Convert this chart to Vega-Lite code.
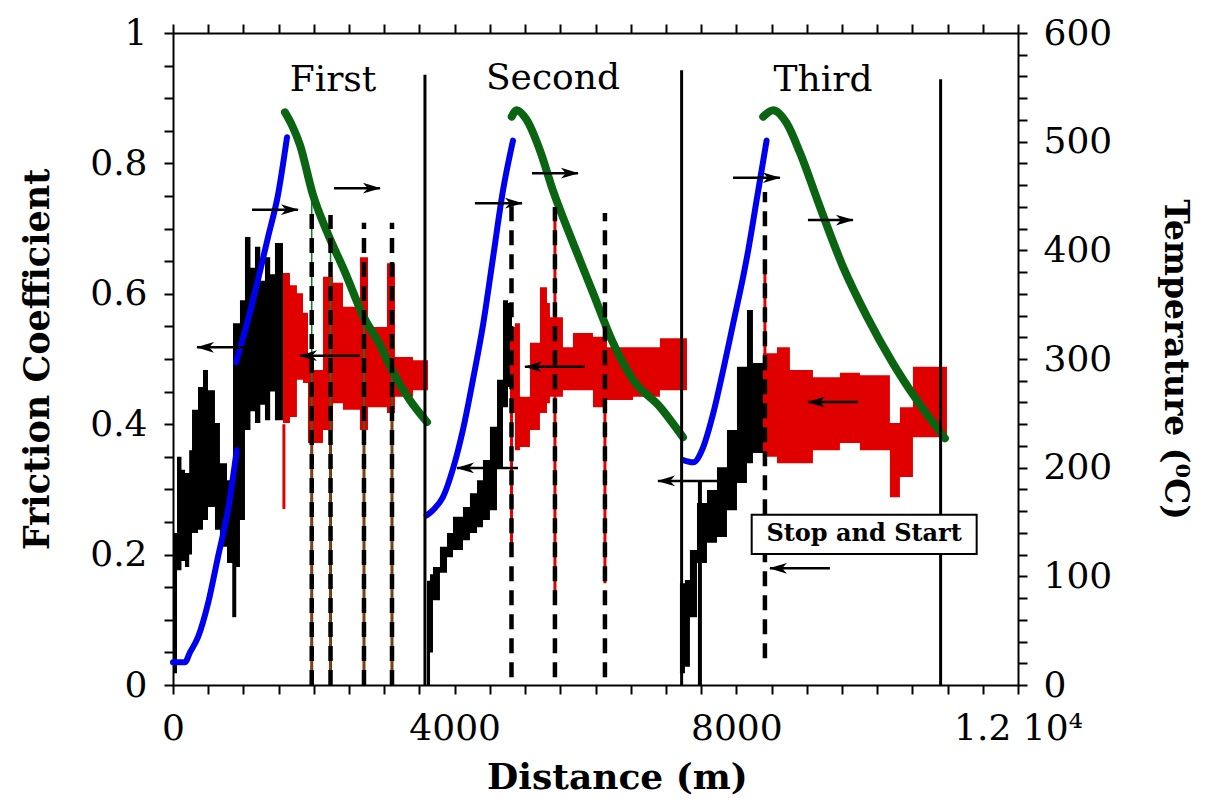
{
  "$schema": "https://vega.github.io/schema/vega-lite/v6.json",
  "width": 845,
  "height": 652,
  "autosize": "none",
  "padding": {"left": 173, "top": 33, "right": 195, "bottom": 118},
  "background": "white",
  "config": {
    "view": {"stroke": null},
    "axis": {"grid": false, "domainColor": "black", "tickColor": "black", "labelColor": "black", "titleColor": "black", "labelFont": "DejaVu Serif", "titleFont": "DejaVu Serif", "domainWidth": 2, "tickWidth": 2, "labelOverlap": false, "labelFlush": false}
  },
  "datasets": {
    "black": [
      {"seg": "b1", "x": 0, "y": 0.018, "y2": 0.233},
      {"seg": "b1", "x": 57, "y": 0.176, "y2": 0.35},
      {"seg": "b1", "x": 120, "y": 0.19, "y2": 0.33},
      {"seg": "b1", "x": 170, "y": 0.181, "y2": 0.325},
      {"seg": "b1", "x": 230, "y": 0.2, "y2": 0.36},
      {"seg": "b1", "x": 270, "y": 0.233, "y2": 0.422},
      {"seg": "b1", "x": 355, "y": 0.238, "y2": 0.457},
      {"seg": "b1", "x": 426, "y": 0.253, "y2": 0.483},
      {"seg": "b1", "x": 497, "y": 0.273, "y2": 0.452},
      {"seg": "b1", "x": 596, "y": 0.238, "y2": 0.402},
      {"seg": "b1", "x": 667, "y": 0.212, "y2": 0.34},
      {"seg": "b1", "x": 767, "y": 0.187, "y2": 0.314},
      {"seg": "b1", "x": 852, "y": 0.181, "y2": 0.555},
      {"seg": "b1", "x": 951, "y": 0.253, "y2": 0.59},
      {"seg": "b1", "x": 1022, "y": 0.391, "y2": 0.687},
      {"seg": "b1", "x": 1100, "y": 0.42, "y2": 0.64},
      {"seg": "b1", "x": 1164, "y": 0.402, "y2": 0.672},
      {"seg": "b1", "x": 1240, "y": 0.43, "y2": 0.62},
      {"seg": "b1", "x": 1306, "y": 0.406, "y2": 0.656},
      {"seg": "b1", "x": 1380, "y": 0.45, "y2": 0.63},
      {"seg": "b1", "x": 1448, "y": 0.406, "y2": 0.678},
      {"seg": "b1", "x": 1562, "y": 0.406, "y2": 0.678},
      {"seg": "b2", "x": 3607, "y": 0.0, "y2": 0.16},
      {"seg": "b2", "x": 3650, "y": 0.05, "y2": 0.17},
      {"seg": "b2", "x": 3692, "y": 0.13, "y2": 0.181},
      {"seg": "b2", "x": 3791, "y": 0.172, "y2": 0.212},
      {"seg": "b2", "x": 3891, "y": 0.196, "y2": 0.233},
      {"seg": "b2", "x": 3976, "y": 0.207, "y2": 0.258},
      {"seg": "b2", "x": 4118, "y": 0.222, "y2": 0.273},
      {"seg": "b2", "x": 4217, "y": 0.233, "y2": 0.294},
      {"seg": "b2", "x": 4317, "y": 0.242, "y2": 0.314},
      {"seg": "b2", "x": 4402, "y": 0.253, "y2": 0.345},
      {"seg": "b2", "x": 4501, "y": 0.268, "y2": 0.396},
      {"seg": "b2", "x": 4601, "y": 0.334, "y2": 0.468},
      {"seg": "b2", "x": 4686, "y": 0.426, "y2": 0.59},
      {"seg": "b2", "x": 4757, "y": 0.457, "y2": 0.586},
      {"seg": "b2", "x": 4814, "y": 0.457, "y2": 0.586},
      {"seg": "b3", "x": 7199, "y": 0.018, "y2": 0.156},
      {"seg": "b3", "x": 7270, "y": 0.028, "y2": 0.161},
      {"seg": "b3", "x": 7341, "y": 0.104, "y2": 0.207},
      {"seg": "b3", "x": 7441, "y": 0.187, "y2": 0.279},
      {"seg": "b3", "x": 7583, "y": 0.218, "y2": 0.299},
      {"seg": "b3", "x": 7725, "y": 0.227, "y2": 0.334},
      {"seg": "b3", "x": 7867, "y": 0.268, "y2": 0.391},
      {"seg": "b3", "x": 8009, "y": 0.31, "y2": 0.488},
      {"seg": "b3", "x": 8151, "y": 0.34, "y2": 0.575},
      {"seg": "b3", "x": 8236, "y": 0.356, "y2": 0.494},
      {"seg": "b3", "x": 8406, "y": 0.356, "y2": 0.494}
    ],
    "red": [
      {"seg": "r1", "x": 1562, "y": 0.402, "y2": 0.632},
      {"seg": "r1", "x": 1661, "y": 0.411, "y2": 0.613},
      {"seg": "r1", "x": 1760, "y": 0.468, "y2": 0.601},
      {"seg": "r1", "x": 1846, "y": 0.463, "y2": 0.571},
      {"seg": "r1", "x": 1917, "y": 0.371, "y2": 0.503},
      {"seg": "r1", "x": 1988, "y": 0.371, "y2": 0.483},
      {"seg": "r1", "x": 2130, "y": 0.391, "y2": 0.626},
      {"seg": "r1", "x": 2272, "y": 0.432, "y2": 0.617},
      {"seg": "r1", "x": 2414, "y": 0.422, "y2": 0.58},
      {"seg": "r1", "x": 2655, "y": 0.391, "y2": 0.656},
      {"seg": "r1", "x": 2769, "y": 0.426, "y2": 0.549},
      {"seg": "r1", "x": 3039, "y": 0.417, "y2": 0.647},
      {"seg": "r1", "x": 3152, "y": 0.442, "y2": 0.503},
      {"seg": "r1", "x": 3408, "y": 0.452, "y2": 0.498},
      {"seg": "r1", "x": 3621, "y": 0.452, "y2": 0.498},
      {"seg": "r2", "x": 4785, "y": 0.417, "y2": 0.549},
      {"seg": "r2", "x": 4856, "y": 0.36, "y2": 0.555},
      {"seg": "r2", "x": 4927, "y": 0.365, "y2": 0.442},
      {"seg": "r2", "x": 5069, "y": 0.391, "y2": 0.525},
      {"seg": "r2", "x": 5211, "y": 0.417, "y2": 0.61},
      {"seg": "r2", "x": 5311, "y": 0.432, "y2": 0.586},
      {"seg": "r2", "x": 5353, "y": 0.442, "y2": 0.564},
      {"seg": "r2", "x": 5538, "y": 0.452, "y2": 0.518},
      {"seg": "r2", "x": 5680, "y": 0.452, "y2": 0.54},
      {"seg": "r2", "x": 5964, "y": 0.426, "y2": 0.534},
      {"seg": "r2", "x": 6163, "y": 0.437, "y2": 0.518},
      {"seg": "r2", "x": 6532, "y": 0.442, "y2": 0.518},
      {"seg": "r2", "x": 6915, "y": 0.452, "y2": 0.532},
      {"seg": "r2", "x": 7299, "y": 0.452, "y2": 0.532},
      {"seg": "r3", "x": 8378, "y": 0.35, "y2": 0.509},
      {"seg": "r3", "x": 8577, "y": 0.34, "y2": 0.518},
      {"seg": "r3", "x": 8761, "y": 0.34, "y2": 0.483},
      {"seg": "r3", "x": 9088, "y": 0.36, "y2": 0.472},
      {"seg": "r3", "x": 9471, "y": 0.371, "y2": 0.479},
      {"seg": "r3", "x": 9755, "y": 0.36, "y2": 0.475},
      {"seg": "r3", "x": 10181, "y": 0.288, "y2": 0.402},
      {"seg": "r3", "x": 10323, "y": 0.319, "y2": 0.426},
      {"seg": "r3", "x": 10508, "y": 0.38, "y2": 0.488},
      {"seg": "r3", "x": 10991, "y": 0.38, "y2": 0.488}
    ],
    "redspikes": [
      {"x": 1575, "y": 0.27, "y2": 0.4},
      {"x": 1970, "y": 0.0, "y2": 0.4},
      {"x": 2237, "y": 0.0, "y2": 0.4},
      {"x": 2712, "y": 0.0, "y2": 0.4},
      {"x": 3110, "y": 0.0, "y2": 0.42},
      {"x": 4807, "y": 0.2, "y2": 0.55},
      {"x": 5424, "y": 0.14, "y2": 0.73},
      {"x": 6134, "y": 0.156, "y2": 0.58},
      {"x": 8406, "y": 0.35, "y2": 0.647}
    ],
    "blackspikes": [
      {"x": 870, "y": 0.104, "y2": 0.25},
      {"x": 7483, "y": 0.0, "y2": 0.314}
    ],
    "blue": [
      {"seg": "a", "x": 0, "y": 21},
      {"seg": "a", "x": 170, "y": 21},
      {"seg": "a", "x": 241, "y": 30},
      {"seg": "a", "x": 355, "y": 44},
      {"seg": "a", "x": 497, "y": 75},
      {"seg": "a", "x": 639, "y": 118},
      {"seg": "a", "x": 781, "y": 161},
      {"seg": "a", "x": 905, "y": 216},
      {"seg": "b", "x": 895, "y": 297},
      {"seg": "b", "x": 1065, "y": 336},
      {"seg": "b", "x": 1207, "y": 373},
      {"seg": "b", "x": 1349, "y": 412},
      {"seg": "b", "x": 1491, "y": 451},
      {"seg": "b", "x": 1619, "y": 504},
      {"seg": "c", "x": 3603, "y": 156},
      {"seg": "c", "x": 3692, "y": 161},
      {"seg": "c", "x": 3834, "y": 173},
      {"seg": "c", "x": 3976, "y": 199},
      {"seg": "c", "x": 4118, "y": 235},
      {"seg": "c", "x": 4260, "y": 281},
      {"seg": "c", "x": 4402, "y": 331},
      {"seg": "c", "x": 4544, "y": 393},
      {"seg": "c", "x": 4686, "y": 455},
      {"seg": "c", "x": 4828, "y": 501},
      {"seg": "d", "x": 7246, "y": 207},
      {"seg": "d", "x": 7388, "y": 205},
      {"seg": "d", "x": 7530, "y": 219},
      {"seg": "d", "x": 7672, "y": 250},
      {"seg": "d", "x": 7814, "y": 290},
      {"seg": "d", "x": 7956, "y": 333},
      {"seg": "d", "x": 8098, "y": 376},
      {"seg": "d", "x": 8169, "y": 400},
      {"seg": "d", "x": 8288, "y": 446},
      {"seg": "d", "x": 8430, "y": 501}
    ],
    "green": [
      {"seg": "g1", "x": 1590, "y": 527},
      {"seg": "g1", "x": 1690, "y": 515},
      {"seg": "g1", "x": 1803, "y": 497},
      {"seg": "g1", "x": 1988, "y": 451},
      {"seg": "g1", "x": 2187, "y": 417},
      {"seg": "g1", "x": 2442, "y": 380},
      {"seg": "g1", "x": 2698, "y": 340},
      {"seg": "g1", "x": 2939, "y": 313},
      {"seg": "g1", "x": 3124, "y": 288},
      {"seg": "g1", "x": 3365, "y": 262},
      {"seg": "g1", "x": 3607, "y": 242},
      {"seg": "g2", "x": 4810, "y": 523},
      {"seg": "g2", "x": 4881, "y": 529},
      {"seg": "g2", "x": 5023, "y": 520},
      {"seg": "g2", "x": 5211, "y": 492},
      {"seg": "g2", "x": 5396, "y": 455},
      {"seg": "g2", "x": 5680, "y": 407},
      {"seg": "g2", "x": 5964, "y": 361},
      {"seg": "g2", "x": 6248, "y": 315},
      {"seg": "g2", "x": 6532, "y": 281},
      {"seg": "g2", "x": 6915, "y": 256},
      {"seg": "g2", "x": 7242, "y": 228},
      {"seg": "g3", "x": 8382, "y": 523},
      {"seg": "g3", "x": 8524, "y": 529},
      {"seg": "g3", "x": 8715, "y": 517},
      {"seg": "g3", "x": 8903, "y": 490},
      {"seg": "g3", "x": 9187, "y": 440},
      {"seg": "g3", "x": 9514, "y": 385},
      {"seg": "g3", "x": 9855, "y": 339},
      {"seg": "g3", "x": 10224, "y": 296},
      {"seg": "g3", "x": 10565, "y": 262},
      {"seg": "g3", "x": 10962, "y": 227}
    ],
    "greendrops": [
      {"x": 1970, "y": 0, "y2": 455},
      {"x": 2237, "y": 0, "y2": 414},
      {"x": 2712, "y": 0, "y2": 338},
      {"x": 3110, "y": 0, "y2": 290}
    ],
    "solid": [
      {"x": 3578, "y": 0, "y2": 0.936},
      {"x": 7223, "y": 0, "y2": 0.943},
      {"x": 10901, "y": 0, "y2": 0.929}
    ],
    "dashed": [
      {"x": 1970, "y": 0, "y2": 0.724},
      {"x": 2237, "y": 0, "y2": 0.721},
      {"x": 2712, "y": 0, "y2": 0.709},
      {"x": 3110, "y": 0, "y2": 0.709},
      {"x": 4807, "y": 0.012, "y2": 0.744},
      {"x": 5424, "y": 0.012, "y2": 0.733},
      {"x": 6134, "y": 0.012, "y2": 0.724},
      {"x": 8406, "y": 0.041, "y2": 0.756}
    ],
    "arrows": [
      {"x": 341, "x2": 1022, "y": 0.518},
      {"x": 1122, "x2": 1775, "y": 0.729},
      {"x": 2286, "x2": 2939, "y": 0.762},
      {"x": 1803, "x2": 2655, "y": 0.505},
      {"x": 4288, "x2": 4956, "y": 0.739},
      {"x": 5098, "x2": 5751, "y": 0.785},
      {"x": 4998, "x2": 5850, "y": 0.488},
      {"x": 4033, "x2": 4899, "y": 0.333},
      {"x": 7952, "x2": 8619, "y": 0.778},
      {"x": 6887, "x2": 7796, "y": 0.313},
      {"x": 9017, "x2": 9656, "y": 0.713},
      {"x": 9017, "x2": 9727, "y": 0.434},
      {"x": 8477, "x2": 9329, "y": 0.179}
    ],
    "headsR": [
      {"x": 1660, "y": 0.729},
      {"x": 2824, "y": 0.762},
      {"x": 4841, "y": 0.739},
      {"x": 5636, "y": 0.785},
      {"x": 8504, "y": 0.778},
      {"x": 9541, "y": 0.713}
    ],
    "headsL": [
      {"x": 456, "y": 0.518},
      {"x": 1918, "y": 0.505},
      {"x": 5113, "y": 0.488},
      {"x": 4148, "y": 0.333},
      {"x": 7002, "y": 0.313},
      {"x": 9132, "y": 0.434},
      {"x": 8592, "y": 0.179}
    ],
    "labels": [
      {"x": 2272, "y": 0.928, "text": "First"},
      {"x": 5396, "y": 0.931, "text": "Second"},
      {"x": 9230, "y": 0.928, "text": "Third"}
    ],
    "box": [
      {"x": 8218, "x2": 11413, "y": 0.201, "y2": 0.261}
    ],
    "boxtext": [
      {"x": 9815, "y": 0.231, "text": "Stop and Start"}
    ]
  },
  "layer": [
    {
      "encoding": {
        "x": {"field": "x", "type": "quantitative", "scale": {"domain": [0, 12000], "nice": false, "zero": false},
          "axis": {"orient": "bottom", "values": [0,500,1000,1500,2000,2500,3000,3500,4000,4500,5000,5500,6000,6500,7000,7500,8000,8500,9000,9500,10000,10500,11000,11500,12000],
            "labelExpr": "datum.value == 12000 ? '1.2 10⁴' : (datum.value % 4000 == 0 ? format(datum.value, 'd') : '')",
            "ticks": true, "tickSize": 9, "labelPadding": 17, "labelFontSize": 36, "title": "Distance (m)", "titleFontSize": 36, "titleFontWeight": "bold", "titlePadding": 14, "titleX": 444}},
        "y": {"field": "y", "type": "quantitative", "scale": {"domain": [0, 1], "nice": false, "zero": false},
          "axis": {"orient": "left", "values": [0,0.05,0.1,0.15,0.2,0.25,0.3,0.35,0.4,0.45,0.5,0.55,0.6,0.65,0.7,0.75,0.8,0.85,0.9,0.95,1],
            "labelExpr": "round(datum.value*20) % 4 == 0 ? format(datum.value, '.1~f') : ''",
            "ticks": true, "tickSize": 9, "labelPadding": 17, "labelFontSize": 36, "title": "Friction Coefficient", "titleFontSize": 35, "titleFontWeight": "bold", "titlePadding": 34}}
      },
      "layer": [
        {"data": {"name": "black"}, "mark": {"type": "area", "interpolate": "step-after", "color": "black"}, "encoding": {"y2": {"field": "y2"}, "detail": {"field": "seg"}}},
        {"data": {"name": "red"}, "mark": {"type": "area", "interpolate": "step-after", "color": "#e00000"}, "encoding": {"y2": {"field": "y2"}, "detail": {"field": "seg"}}},
        {"data": {"name": "redspikes"}, "mark": {"type": "rule", "color": "#e00000", "strokeWidth": 3}, "encoding": {"y2": {"field": "y2"}}},
        {"data": {"name": "blackspikes"}, "mark": {"type": "rule", "color": "black", "strokeWidth": 4}, "encoding": {"y2": {"field": "y2"}}}
      ]
    },
    {
      "encoding": {
        "x": {"field": "x", "type": "quantitative", "scale": {"domain": [0, 12000], "nice": false, "zero": false},
          "axis": {"orient": "top", "values": [0,500,1000,1500,2000,2500,3000,3500,4000,4500,5000,5500,6000,6500,7000,7500,8000,8500,9000,9500,10000,10500,11000,11500,12000], "labels": false, "ticks": true, "tickSize": 9, "title": null}},
        "y": {"field": "y", "type": "quantitative", "scale": {"domain": [0, 600], "nice": false, "zero": false},
          "axis": {"orient": "right", "values": [0,20,40,60,80,100,120,140,160,180,200,220,240,260,280,300,320,340,360,380,400,420,440,460,480,500,520,540,560,580,600],
            "labelExpr": "datum.value % 100 == 0 ? format(datum.value, 'd') : ''",
            "ticks": true, "tickSize": 9, "labelPadding": 16, "labelFontSize": 36, "title": "Temperature (⁰C)", "titleAngle": 90, "titleFontSize": 33, "titleFontWeight": "bold", "titlePadding": 46}}
      },
      "layer": [
        {"data": {"name": "greendrops"}, "mark": {"type": "rule", "color": "#117a1e", "strokeWidth": 1.5}, "encoding": {"y2": {"field": "y2"}}},
        {"data": {"name": "blue"}, "mark": {"type": "line", "color": "#0000f0", "strokeWidth": 6, "strokeCap": "round", "interpolate": "monotone"}, "encoding": {"detail": {"field": "seg"}}},
        {"data": {"name": "green"}, "mark": {"type": "line", "color": "#0b6412", "strokeWidth": 8, "strokeCap": "round", "interpolate": "monotone"}, "encoding": {"detail": {"field": "seg"}}}
      ]
    },
    {
      "encoding": {
        "x": {"field": "x", "type": "quantitative", "scale": {"domain": [0, 12000], "nice": false, "zero": false}, "axis": null},
        "y": {"field": "y", "type": "quantitative", "scale": {"domain": [0, 1], "nice": false, "zero": false}, "axis": null}
      },
      "layer": [
        {"data": {"name": "solid"}, "mark": {"type": "rule", "color": "black", "strokeWidth": 3}, "encoding": {"y2": {"field": "y2"}}},
        {"data": {"name": "dashed"}, "mark": {"type": "rule", "color": "black", "strokeWidth": 4.5, "strokeDash": [15, 9]}, "encoding": {"y2": {"field": "y2"}}},
        {"data": {"name": "arrows"}, "mark": {"type": "rule", "color": "black", "strokeWidth": 2.5}, "encoding": {"x2": {"field": "x2"}}},
        {"data": {"name": "headsR"}, "mark": {"type": "point", "shape": "M1,0L-1,-0.6L-0.45,0L-1,0.6Z", "filled": true, "color": "black", "size": 320, "opacity": 1}, "encoding": {}},
        {"data": {"name": "headsL"}, "mark": {"type": "point", "shape": "M-1,0L1,-0.6L0.45,0L1,0.6Z", "filled": true, "color": "black", "size": 320, "opacity": 1}, "encoding": {}},
        {"data": {"name": "labels"}, "mark": {"type": "text", "font": "DejaVu Serif", "fontSize": 36, "color": "black", "align": "center", "baseline": "middle"}, "encoding": {"text": {"field": "text"}}},
        {"data": {"name": "box"}, "mark": {"type": "rect", "fill": "white", "stroke": "black", "strokeWidth": 2}, "encoding": {"x2": {"field": "x2"}, "y2": {"field": "y2"}}},
        {"data": {"name": "boxtext"}, "mark": {"type": "text", "font": "DejaVu Serif", "fontSize": 24, "fontWeight": "bold", "color": "black", "align": "center", "baseline": "middle"}, "encoding": {"text": {"field": "text"}}}
      ]
    }
  ],
  "resolve": {"scale": {"x": "independent", "y": "independent"}, "axis": {"x": "independent", "y": "independent"}}
}
